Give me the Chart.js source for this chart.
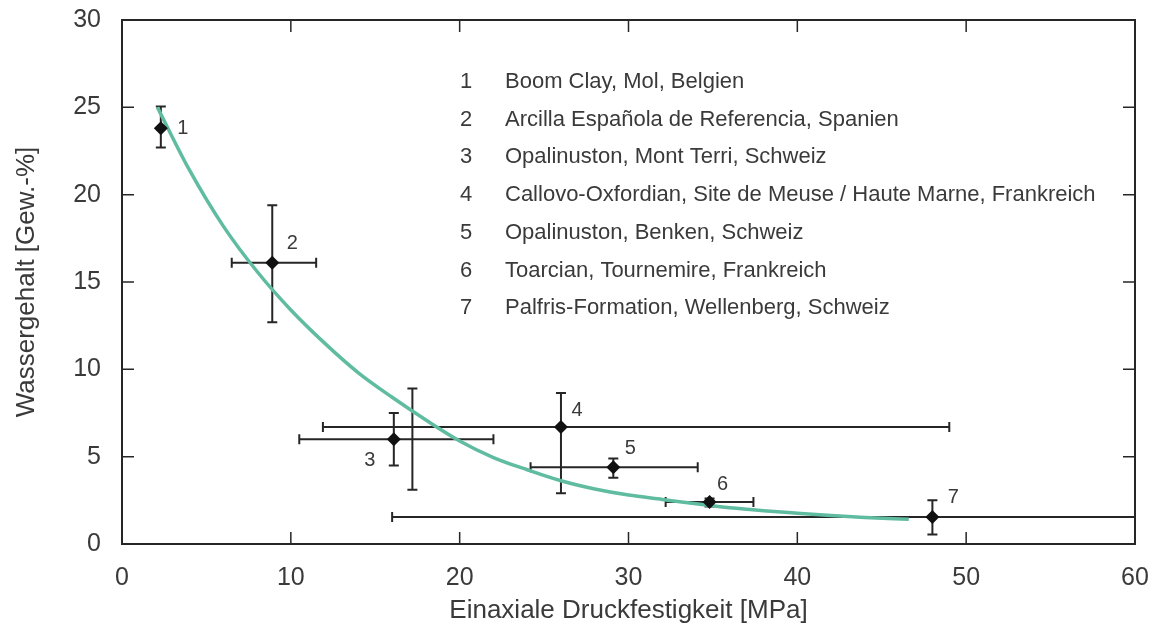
<!DOCTYPE html>
<html>
<head>
<meta charset="utf-8">
<script src="https://cdn.jsdelivr.net/npm/chart.js@4/dist/chart.umd.min.js"></script>
<style>
  html, body { margin: 0; padding: 0; background: #fff; }
  #wrap { width: 1156px; height: 628px; }
</style>
</head>
<body>
<div id="wrap"><canvas id="chart"></canvas></div>
<script>
// Samples: uniaxial strength (MPa) vs water content (wt-%)
const sampleIds = ["1", "2", "3", "4", "5", "6", "7"];
const strength = [2.3, 8.9, 16.1, 26.0, 29.1, 34.8, 48.0];
const water = [23.8, 16.1, 6.0, 6.7, 4.4, 2.4, 1.55];
const strengthLow = [null, 6.5, 10.5, 11.9, 24.2, 32.2, 16.0];
const strengthHigh = [null, 11.5, 22.0, 49.0, 34.1, 37.4, 62];
const waterLow = [22.7, 12.7, 4.5, 2.9, 3.8, 2.15, 0.55];
const waterHigh = [25.05, 19.4, 7.5, 8.65, 4.9, 2.6, 2.5];

// second vertical range next to sample 3 (no marker)
const extraBarX = [17.2];
const extraBarLow = [3.1];
const extraBarHigh = [8.9];

// trend curve
const trendX = [2.1, 4, 6, 8, 10, 12, 14, 16, 18, 20, 22, 24, 26, 28, 30, 32, 34, 36, 38, 40, 42, 44, 46.6];
const trendY = [25.0, 21.4, 18.2, 15.6, 13.4, 11.5, 9.8, 8.4, 7.1, 5.9, 4.95, 4.25, 3.62, 3.15, 2.8, 2.55, 2.3, 2.07, 1.9, 1.76, 1.63, 1.52, 1.42];

const sampleNames = [
  "Boom Clay, Mol, Belgien",
  "Arcilla Española de Referencia, Spanien",
  "Opalinuston, Mont Terri, Schweiz",
  "Callovo-Oxfordian, Site de Meuse / Haute Marne, Frankreich",
  "Opalinuston, Benken, Schweiz",
  "Toarcian, Tournemire, Frankreich",
  "Palfris-Formation, Wellenberg, Schweiz"
];

const xTicks = [0, 10, 20, 30, 40, 50, 60];
const yTicks = [0, 5, 10, 15, 20, 25, 30];

const FONT = "'Liberation Sans', Arial, sans-serif";
const TEXT = "#3a3a3a";
const INK = "#262626";

// label placement next to each marker (px)
const labelOffsets = [[22, 0], [20, -19], [-24, 21], [16, -16], [17, -19], [13, -18], [21, -19]];

const errorBars = {
  id: "errorBars",
  beforeDatasetsDraw(chart) {
    const { ctx, chartArea: a, scales: { x, y } } = chart;
    const cap = 5;
    ctx.save();
    ctx.beginPath();
    ctx.rect(a.left, a.top, a.right - a.left, a.bottom - a.top);
    ctx.clip();
    ctx.strokeStyle = INK;
    ctx.lineWidth = 2;
    function vbar(xv, lo, hi) {
      const px = x.getPixelForValue(xv);
      const p1 = y.getPixelForValue(lo), p2 = y.getPixelForValue(hi);
      ctx.beginPath();
      ctx.moveTo(px, p1); ctx.lineTo(px, p2);
      ctx.moveTo(px - cap, p1); ctx.lineTo(px + cap, p1);
      ctx.moveTo(px - cap, p2); ctx.lineTo(px + cap, p2);
      ctx.stroke();
    }
    function hbar(yv, lo, hi) {
      const py = y.getPixelForValue(yv);
      const p1 = x.getPixelForValue(lo), p2 = x.getPixelForValue(hi);
      ctx.beginPath();
      ctx.moveTo(p1, py); ctx.lineTo(p2, py);
      ctx.moveTo(p1, py - cap); ctx.lineTo(p1, py + cap);
      ctx.moveTo(p2, py - cap); ctx.lineTo(p2, py + cap);
      ctx.stroke();
    }
    strength.forEach((sx, i) => {
      if (waterLow[i] !== null) vbar(sx, waterLow[i], waterHigh[i]);
      if (strengthLow[i] !== null) hbar(water[i], strengthLow[i], strengthHigh[i]);
    });
    extraBarX.forEach((ex, i) => vbar(ex, extraBarLow[i], extraBarHigh[i]));
    ctx.restore();
  }
};

const frameAndText = {
  id: "frameAndText",
  afterDatasetsDraw(chart) {
    const { ctx, chartArea: a, scales: { x, y } } = chart;
    const tl = 12;
    ctx.save();
    ctx.strokeStyle = INK;
    ctx.lineWidth = 1.5;
    ctx.beginPath();
    xTicks.slice(1, -1).forEach(v => {
      const px = x.getPixelForValue(v);
      ctx.moveTo(px, a.bottom); ctx.lineTo(px, a.bottom - tl);
      ctx.moveTo(px, a.top); ctx.lineTo(px, a.top + tl);
    });
    yTicks.slice(1, -1).forEach(v => {
      const py = y.getPixelForValue(v);
      ctx.moveTo(a.left, py); ctx.lineTo(a.left + tl, py);
      ctx.moveTo(a.right, py); ctx.lineTo(a.right - tl, py);
    });
    ctx.stroke();
    ctx.lineWidth = 2;
    ctx.strokeRect(a.left, a.top, a.right - a.left, a.bottom - a.top);

    // point numbers
    ctx.fillStyle = TEXT;
    ctx.font = "20px " + FONT;
    ctx.textAlign = "center";
    ctx.textBaseline = "middle";
    sampleIds.forEach((id, i) => {
      const px = x.getPixelForValue(strength[i]) + labelOffsets[i][0];
      const py = y.getPixelForValue(water[i]) + labelOffsets[i][1];
      ctx.fillText(id, px, py);
    });

    // key of samples
    ctx.font = "22px " + FONT;
    ctx.textAlign = "left";
    sampleNames.forEach((name, i) => {
      const py = 82 + i * 37.7;
      ctx.fillText(sampleIds[i], 460, py);
      ctx.fillText(name, 505, py);
    });
    ctx.restore();
  }
};

const ctx = document.getElementById("chart").getContext("2d");
new Chart(ctx, {
  type: "scatter",
  data: {
    datasets: [
      {
        label: "Proben",
        data: strength.map((v, i) => ({ x: v, y: water[i] })),
        pointStyle: "rectRot",
        pointRadius: 7,
        backgroundColor: "#111",
        borderWidth: 0
      },
      {
        label: "Trend",
        type: "line",
        data: trendX.map((v, i) => ({ x: v, y: trendY[i] })),
        borderColor: "#5fbca0",
        borderWidth: 3.5,
        pointRadius: 0,
        cubicInterpolationMode: "monotone",
        fill: false
      }
    ]
  },
  options: {
    responsive: true,
    maintainAspectRatio: false,
    animation: false,
    layout: { padding: { left: 0, right: 21, top: 20, bottom: 0 } },
    plugins: {
      legend: { display: false },
      tooltip: { enabled: false }
    },
    scales: {
      x: {
        type: "linear",
        min: 0,
        max: 60,
        afterBuildTicks: s => { s.ticks = xTicks.map(v => ({ value: v })); },
        afterFit: s => { s.height = 84; s.paddingLeft = 0; s.paddingRight = 0; },
        ticks: { font: { family: FONT, size: 25 }, color: TEXT, padding: 19, maxRotation: 0 },
        grid: { display: false, drawTicks: false },
        border: { display: false },
        title: {
          display: true,
          text: "Einaxiale Druckfestigkeit [MPa]",
          font: { family: FONT, size: 26 },
          color: TEXT,
          padding: { top: 0, bottom: 2 }
        }
      },
      y: {
        type: "linear",
        min: 0,
        max: 30,
        afterBuildTicks: s => { s.ticks = yTicks.map(v => ({ value: v })); },
        afterFit: s => { s.width = 122; s.paddingTop = 0; s.paddingBottom = 0; },
        ticks: { font: { family: FONT, size: 25 }, color: TEXT, padding: 21 },
        grid: { display: false, drawTicks: false },
        border: { display: false },
        title: {
          display: true,
          text: "Wassergehalt [Gew.-%]",
          font: { family: FONT, size: 26 },
          color: TEXT,
          padding: { top: 11, bottom: 0 }
        }
      }
    }
  },
  plugins: [errorBars, frameAndText]
});
</script>
</body>
</html>
